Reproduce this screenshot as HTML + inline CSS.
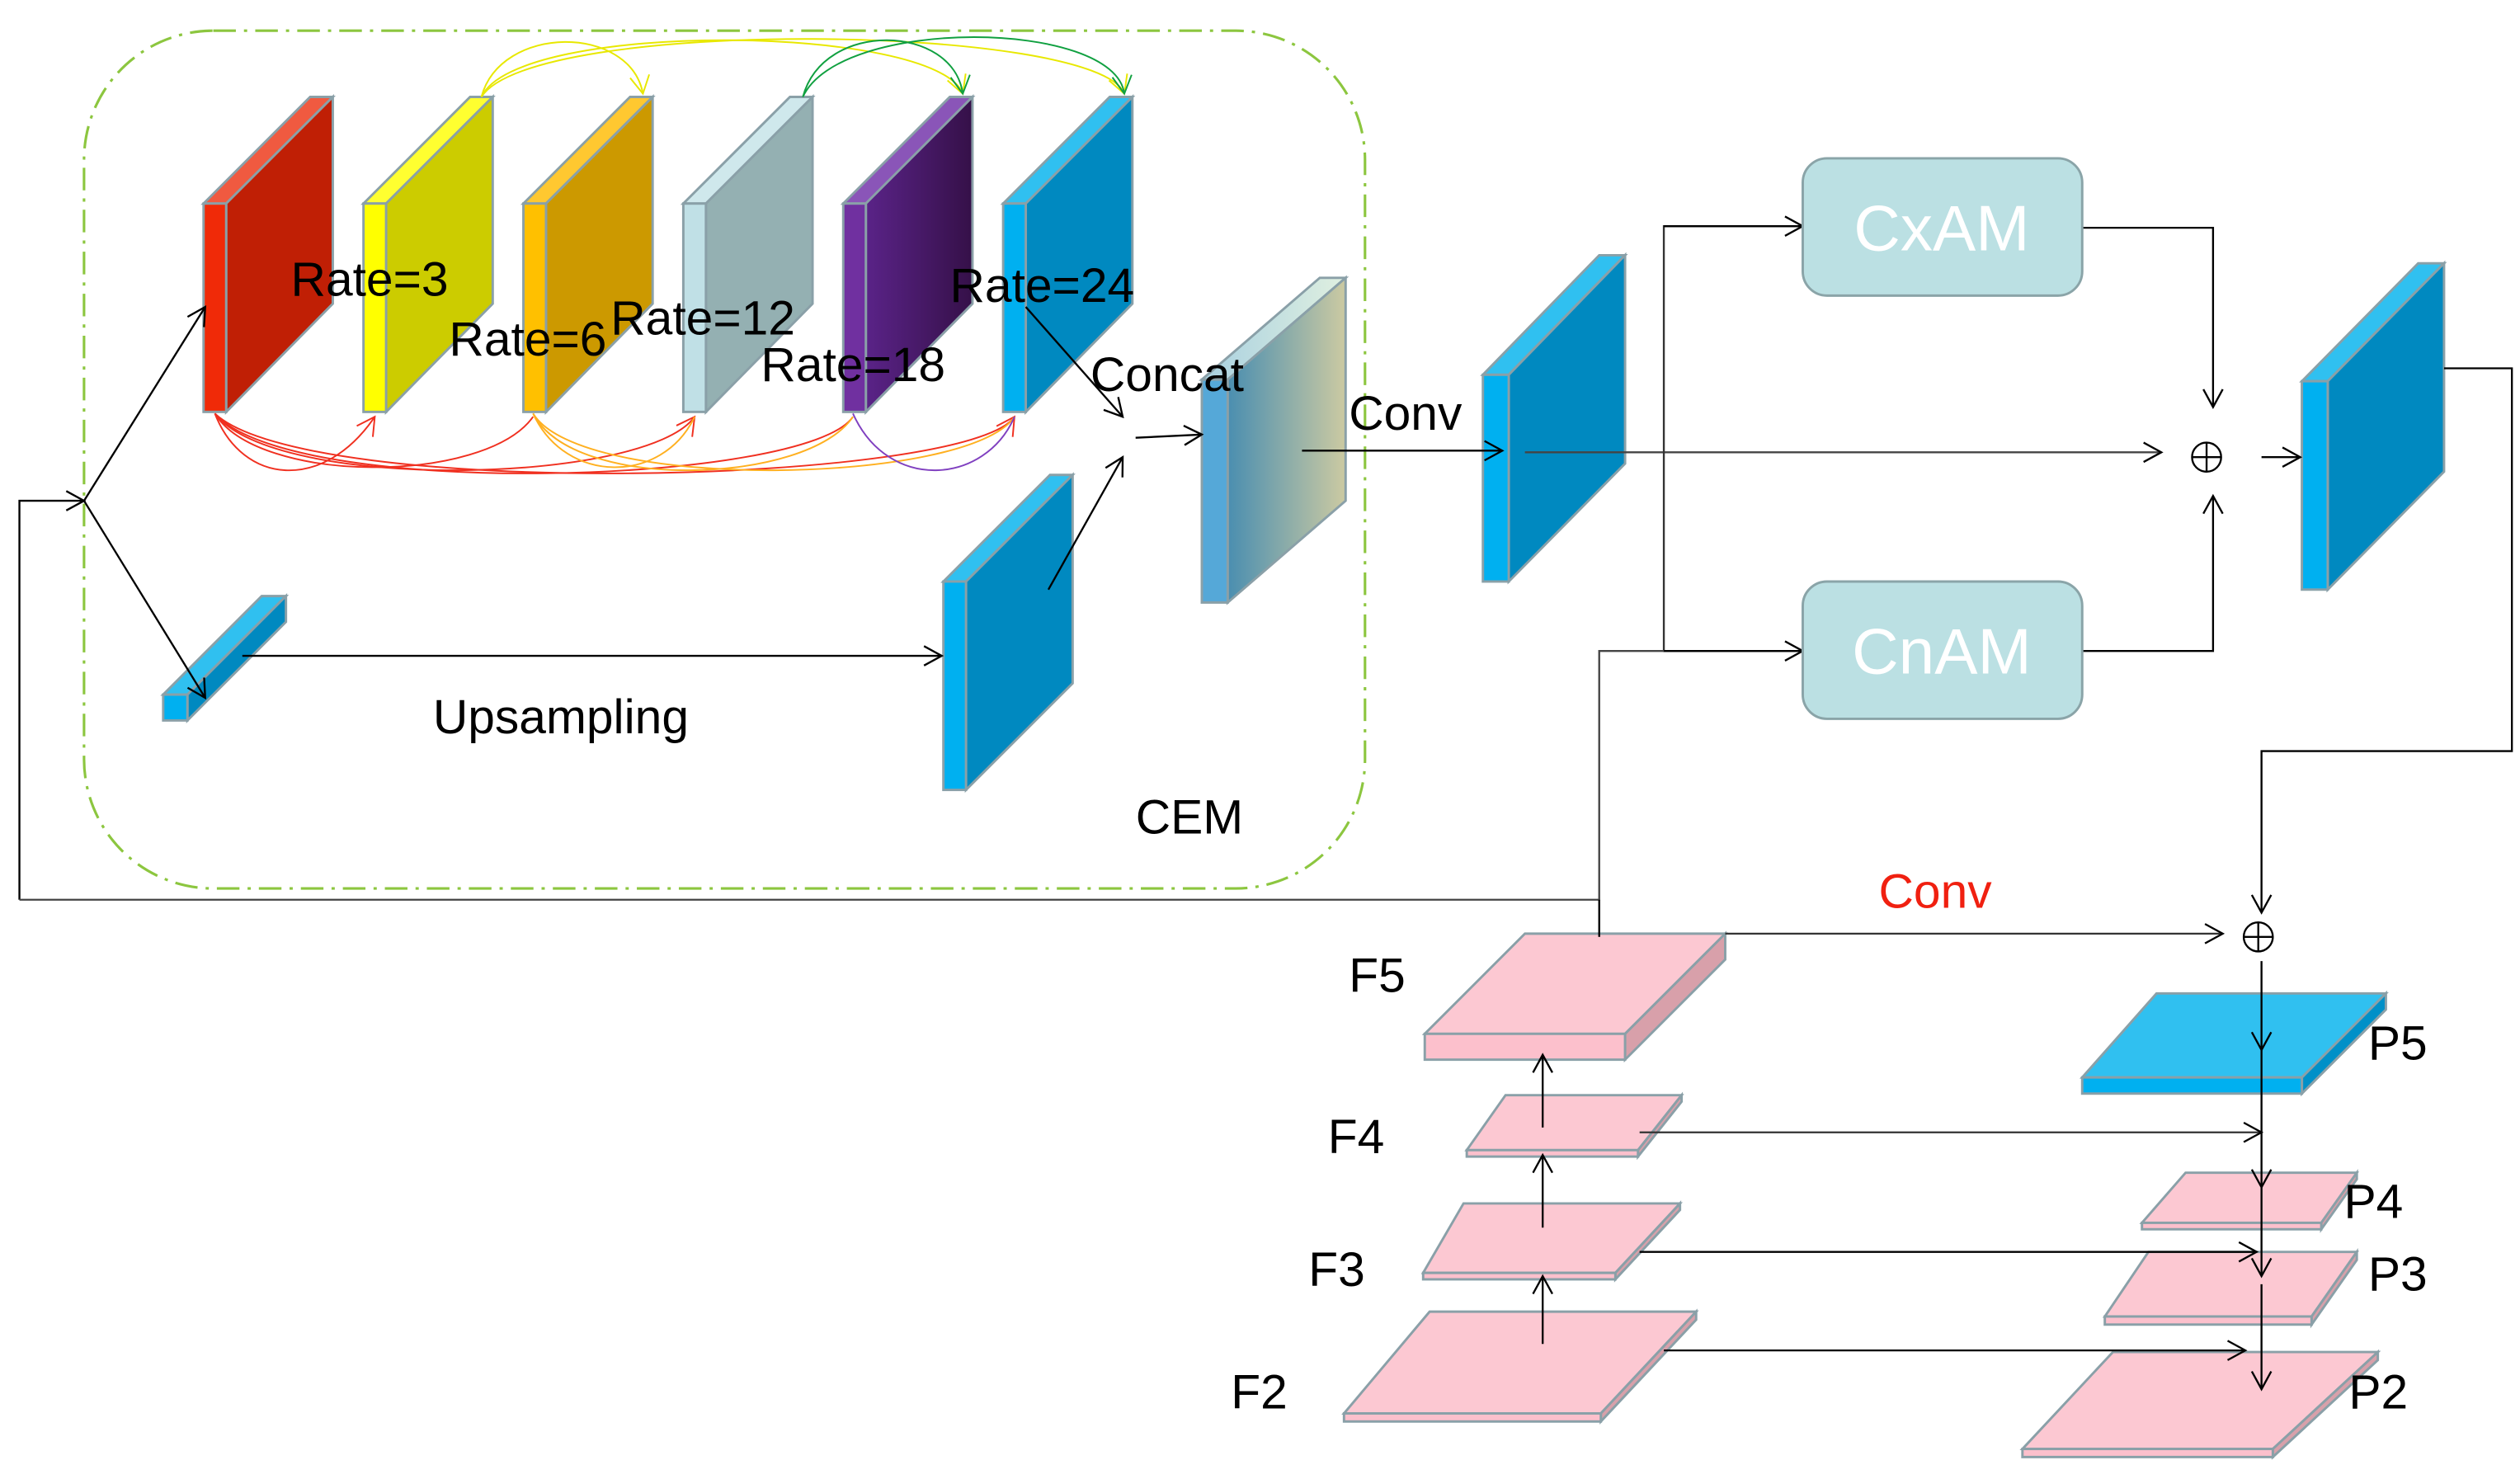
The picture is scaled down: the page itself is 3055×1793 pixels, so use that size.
<!DOCTYPE html>
<html><head><meta charset="utf-8"><style>
html,body{margin:0;padding:0;background:#fff;}
svg{display:block;}
text{font-family:"Liberation Sans",sans-serif;}
</style></head><body>
<svg width="3055" height="1793" viewBox="0 0 1560 915.6" xmlns="http://www.w3.org/2000/svg">
<defs>
<marker id="a" markerWidth="14" markerHeight="14" refX="12" refY="7" orient="auto" markerUnits="userSpaceOnUse">
<path d="M1,1 L12,7 L1,13" fill="none" stroke="#000" stroke-width="1.2"/></marker>
<marker id="ar" markerWidth="14" markerHeight="14" refX="12" refY="7" orient="auto" markerUnits="userSpaceOnUse">
<path d="M1,1 L12,7 L1,13" fill="none" stroke="#f03020" stroke-width="1"/></marker>
<marker id="ay" markerWidth="14" markerHeight="14" refX="12" refY="7" orient="auto" markerUnits="userSpaceOnUse">
<path d="M1,1 L12,7 L1,13" fill="none" stroke="#e8e800" stroke-width="1"/></marker>
<marker id="ag" markerWidth="14" markerHeight="14" refX="12" refY="7" orient="auto" markerUnits="userSpaceOnUse">
<path d="M1,1 L12,7 L1,13" fill="none" stroke="#10a040" stroke-width="1"/></marker>
<linearGradient id="gp" x1="0" x2="1"><stop offset="0" stop-color="#5a2388"/><stop offset="1" stop-color="#351048"/></linearGradient>
<linearGradient id="gc" x1="0" x2="1"><stop offset="0" stop-color="#4a8eb0"/><stop offset="1" stop-color="#cccaa2"/></linearGradient>
<linearGradient id="gct" x1="0" x2="1"><stop offset="0" stop-color="#a8d0e0"/><stop offset="1" stop-color="#e0f0e0"/></linearGradient>
</defs>

<rect x="52" y="19" width="793" height="531" rx="80" fill="none" stroke="#8cc63f" stroke-width="1.6" stroke-dasharray="14,5,2,5"/>

<g stroke="#8aa0a8" stroke-width="1.5">
<g><polygon points="126,126 140,126 206,60 192,60" fill="#f05a40"/><polygon points="140,126 206,60 206,188 140,255" fill="#c01f05"/><rect x="126" y="126" width="14" height="129" fill="#f02a08"/></g>
<g><polygon points="225,126 239,126 305,60 291,60" fill="#ffff30"/><polygon points="239,126 305,60 305,188 239,255" fill="#cccc00"/><rect x="225" y="126" width="14" height="129" fill="#ffff00"/></g>
<g><polygon points="324,126 338,126 404,60 390,60" fill="#ffc830"/><polygon points="338,126 404,60 404,188 338,255" fill="#cc9900"/><rect x="324" y="126" width="14" height="129" fill="#ffc000"/></g>
<g><polygon points="423,126 437,126 503,60 489,60" fill="#cfe8ec"/><polygon points="437,126 503,60 503,188 437,255" fill="#94b0b2"/><rect x="423" y="126" width="14" height="129" fill="#c0e0e6"/></g>
<g><polygon points="522,126 536,126 602,60 588,60" fill="#8a55b8"/><polygon points="536,126 602,60 602,188 536,255" fill="url(#gp)"/><rect x="522" y="126" width="14" height="129" fill="#7030a0"/></g>
<g><polygon points="621,126 635,126 701,60 687,60" fill="#30c0f0"/><polygon points="635,126 701,60 701,188 635,255" fill="#0089c0"/><rect x="621" y="126" width="14" height="129" fill="#00b0f0"/></g>
<g><polygon points="744,235 760,235 833,172 817,172" fill="url(#gct)"/><polygon points="760,235 833,172 833,310 760,373" fill="url(#gc)"/><rect x="744" y="235" width="16" height="138" fill="#55a8d8"/></g>
<g><polygon points="584,360 598,360 664,294 650,294" fill="#30c0f0"/><polygon points="598,360 664,294 664,423 598,489" fill="#0089c0"/><rect x="584" y="360" width="14" height="129" fill="#00b0f0"/></g>
<g><polygon points="101,430 116,430 177,369 162,369" fill="#30c0f0"/><polygon points="116,430 177,369 177,385 116,446" fill="#0089c0"/><rect x="101" y="430" width="15" height="16" fill="#00b0f0"/></g>
<g><polygon points="918,232 934,232 1006,158 990,158" fill="#30c0f0"/><polygon points="934,232 1006,158 1006,287 934,360" fill="#0089c0"/><rect x="918" y="232" width="16" height="128" fill="#00b0f0"/></g>
<g><polygon points="1425,236 1441,236 1513,163 1497,163" fill="#30c0f0"/><polygon points="1441,236 1513,163 1513,292 1441,365" fill="#0089c0"/><rect x="1425" y="236" width="16" height="129" fill="#00b0f0"/></g>
<g><polygon points="944,578 1068,578 1006,640 882,640" fill="#fcc8d2"/><polygon points="1006,640 1068,578 1068,594 1006,656" fill="#d8a0aa"/><rect x="882" y="640" width="124" height="16" fill="#fcc0cc"/></g>
<g><polygon points="932,678 1041,678 1014,712 908,712" fill="#fcc8d2"/><polygon points="1014,712 1041,678 1041,682 1014,716" fill="#d8a0aa"/><rect x="908" y="712" width="106" height="4" fill="#fcc0cc"/></g>
<g><polygon points="906,745 1040,745 1000,788 881,788" fill="#fcc8d2"/><polygon points="1000,788 1040,745 1040,749 1000,792" fill="#d8a0aa"/><rect x="881" y="788" width="119" height="4" fill="#fcc0cc"/></g>
<g><polygon points="885,812 1050,812 991,875 832,875" fill="#fcc8d2"/><polygon points="991,875 1050,812 1050,817 991,880" fill="#d8a0aa"/><rect x="832" y="875" width="159" height="5" fill="#fcc0cc"/></g>
<g><polygon points="1335,615 1477,615 1425,667 1289,667" fill="#30c0f0"/><polygon points="1425,667 1477,615 1477,625 1425,677" fill="#0090c8"/><rect x="1289" y="667" width="136" height="10" fill="#00b0f0"/></g>
<g><polygon points="1353,726 1459,726 1437,757 1326,757" fill="#fcc8d2"/><polygon points="1437,757 1459,726 1459,730 1437,761" fill="#d8a0aa"/><rect x="1326" y="757" width="111" height="4" fill="#fcc0cc"/></g>
<g><polygon points="1330,775 1459,775 1431,815 1303,815" fill="#fcc8d2"/><polygon points="1431,815 1459,775 1459,780 1431,820" fill="#d8a0aa"/><rect x="1303" y="815" width="128" height="5" fill="#fcc0cc"/></g>
<g><polygon points="1308,837 1472,837 1407,897 1252,897" fill="#fcc8d2"/><polygon points="1407,897 1472,837 1472,842 1407,902" fill="#d8a0aa"/><rect x="1252" y="897" width="155" height="5" fill="#fcc0cc"/></g>
</g>

<g fill="none" stroke-width="1">
<path d="M133,256 C150,300 200,305 232,258" stroke="#f03020" marker-end="url(#ar)"/>
<path d="M133,256 C160,300 300,300 330,258" stroke="#f03020"/>
<path d="M133,256 C170,305 400,300 430,258" stroke="#f03020" marker-end="url(#ar)"/>
<path d="M133,256 C180,310 500,300 528,258" stroke="#f03020"/>
<path d="M133,256 C190,310 600,300 628,258" stroke="#f03020" marker-end="url(#ar)"/>
<path d="M330,256 C350,300 410,300 430,258" stroke="#ffb020"/>
<path d="M330,256 C355,305 500,300 528,258" stroke="#ffb020"/>
<path d="M330,256 C360,305 600,300 628,258" stroke="#ffb020"/>
<path d="M528,256 C550,305 610,300 628,258" stroke="#8040c0"/>
<path d="M298,60 C310,15 390,15 398,58" stroke="#e8e800" marker-end="url(#ay)"/>
<path d="M298,60 C320,12 580,15 596,58" stroke="#e8e800" marker-end="url(#ay)"/>
<path d="M298,60 C330,10 680,15 696,58" stroke="#e8e800" marker-end="url(#ay)"/>
<path d="M497,60 C510,12 590,15 596,58" stroke="#10a040" marker-end="url(#ag)"/>
<path d="M497,60 C520,10 690,12 696,58" stroke="#10a040" marker-end="url(#ag)"/>
</g>

<g fill="none" stroke="#000" stroke-width="1.2">
<polyline points="12,557 12,310 52,310" marker-end="url(#a)"/>
<line x1="52" y1="310" x2="127" y2="190" marker-end="url(#a)"/>
<line x1="52" y1="310" x2="127" y2="432" marker-end="url(#a)"/>
<line x1="150" y1="406" x2="583" y2="406" marker-end="url(#a)"/>
<line x1="649" y1="365" x2="695" y2="283" marker-end="url(#a)"/>
<line x1="635" y1="190" x2="695" y2="258" marker-end="url(#a)"/>
<line x1="703" y1="271" x2="744" y2="269" marker-end="url(#a)"/>
<line x1="806" y1="279" x2="930" y2="279" marker-end="url(#a)"/>
<line x1="944" y1="280" x2="1338" y2="280" marker-end="url(#a)" stroke="#444"/>
<line x1="1400" y1="283" x2="1424" y2="283" marker-end="url(#a)"/>
<polyline points="1116,140 1030,140 1030,403 1116,403" stroke="#333"/>
<line x1="1030" y1="140" x2="1116" y2="140" marker-end="url(#a)"/>
<line x1="1030" y1="403" x2="1116" y2="403" marker-end="url(#a)"/>
<polyline points="12,557 990,557 990,403 1030,403" stroke="#444"/>
<line x1="990" y1="557" x2="990" y2="580"/>
<polyline points="1289,141 1370,141 1370,252" marker-end="url(#a)"/>
<polyline points="1289,403 1370,403 1370,307" marker-end="url(#a)"/>
<polyline points="1513,228 1555,228 1555,465 1400,465 1400,565" marker-end="url(#a)"/>
<line x1="1068" y1="578" x2="1376" y2="578" marker-end="url(#a)" stroke="#333"/>
<line x1="1400" y1="595" x2="1400" y2="650" marker-end="url(#a)"/>
<line x1="1400" y1="650" x2="1400" y2="735" marker-end="url(#a)"/>
<line x1="1400" y1="735" x2="1400" y2="790" marker-end="url(#a)"/>
<line x1="1400" y1="795" x2="1400" y2="860" marker-end="url(#a)"/>
<line x1="955" y1="832" x2="955" y2="790" marker-end="url(#a)"/>
<line x1="955" y1="760" x2="955" y2="715" marker-end="url(#a)"/>
<line x1="955" y1="698" x2="955" y2="653" marker-end="url(#a)"/>
<line x1="1015" y1="701" x2="1400" y2="701" marker-end="url(#a)" stroke="#333"/>
<line x1="1015" y1="775" x2="1397" y2="775" marker-end="url(#a)"/>
<line x1="1030" y1="836" x2="1390" y2="836" marker-end="url(#a)"/>
</g>

<rect x="1116" y="98" width="173" height="85" rx="15" fill="#bbe0e3" stroke="#8aa4a8" stroke-width="1.5"/>
<rect x="1116" y="360" width="173" height="85" rx="15" fill="#bbe0e3" stroke="#8aa4a8" stroke-width="1.5"/>
<text x="1202" y="155" font-size="40" fill="#fff" text-anchor="middle">CxAM</text>
<text x="1202" y="417" font-size="40" fill="#fff" text-anchor="middle">CnAM</text>

<g fill="none" stroke="#000" stroke-width="1.2">
<circle cx="1366" cy="283" r="9"/><line x1="1357" y1="283" x2="1375" y2="283"/><line x1="1366" y1="274" x2="1366" y2="292"/>
<circle cx="1398" cy="580" r="9"/><line x1="1389" y1="580" x2="1407" y2="580"/><line x1="1398" y1="571" x2="1398" y2="589"/>
</g>

<g font-size="30" fill="#000">
<text x="180" y="183">Rate=3</text>
<text x="278" y="220">Rate=6</text>
<text x="378" y="207">Rate=12</text>
<text x="471" y="236">Rate=18</text>
<text x="588" y="187">Rate=24</text>
<text x="675" y="242">Concat</text>
<text x="835" y="266">Conv</text>
<text x="268" y="454">Upsampling</text>
<text x="703" y="516">CEM</text>
<text x="835" y="614">F5</text>
<text x="822" y="714">F4</text>
<text x="810" y="796">F3</text>
<text x="762" y="872">F2</text>
<text x="1466" y="656">P5</text>
<text x="1451" y="754">P4</text>
<text x="1466" y="799">P3</text>
<text x="1454" y="872">P2</text>
<text x="1163" y="562" fill="#f02010">Conv</text>
</g>
</svg>
</body></html>
